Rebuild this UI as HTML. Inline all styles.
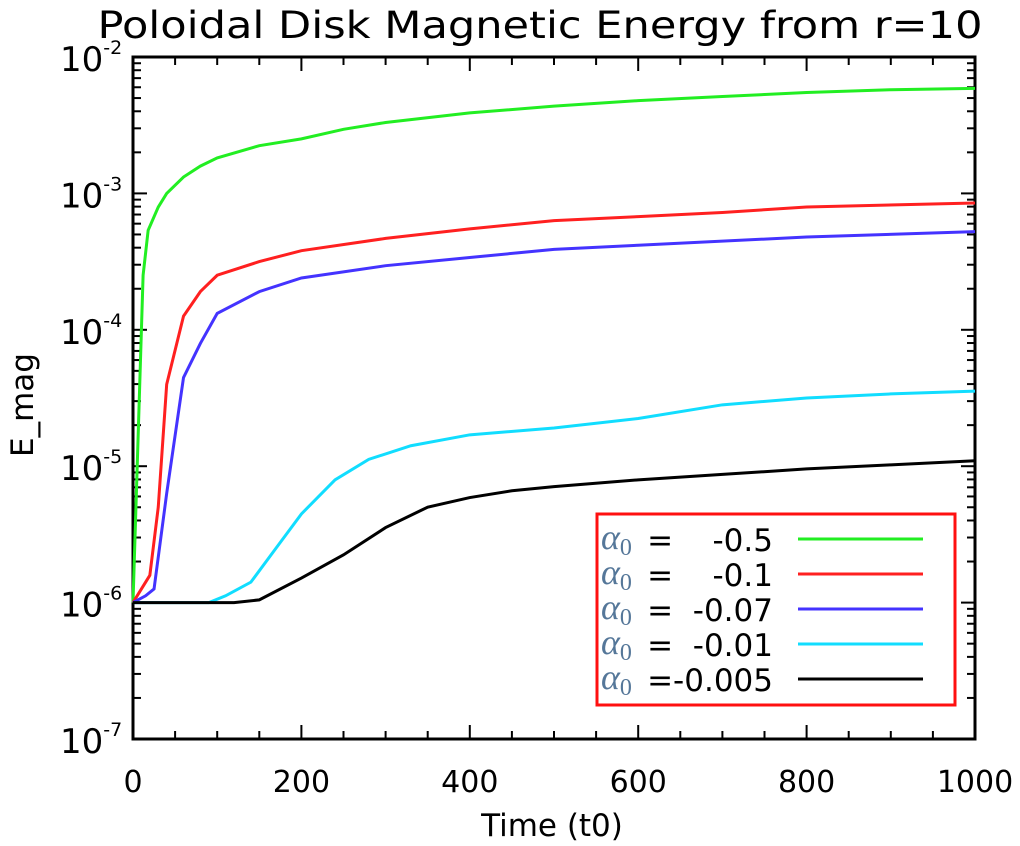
<!DOCTYPE html>
<html><head><meta charset="utf-8"><style>
html,body{margin:0;padding:0;background:#fff;}
svg{display:block;font-family:"DejaVu Sans","Liberation Sans",sans-serif;}
</style></head><body>
<svg id="chart" width="1020" height="846">
<text x="540" y="38" font-size="37" text-anchor="middle" fill="#000" textLength="885" lengthAdjust="spacingAndGlyphs">Poloidal Disk Magnetic Energy from r=10</text>
<text x="552" y="836" font-size="31" text-anchor="middle" fill="#000">Time (t0)</text>
<text transform="translate(33,405) rotate(-90)" font-size="31" text-anchor="middle" fill="#000">E_mag</text>
<g id="axes"></g>
<g id="series"></g>
<g id="legend"></g>
</svg>
<script>
const xTicks=[0,200,400,600,800,1000];
const yExps=[-7,-6,-5,-4,-3,-2];
const tGreen=[0,5,12,18,30,40,60,80,100,150,200,250,300,400,500,600,700,800,900,1000];
const vGreen=[-6,-5,-3.6,-3.27,-3.1,-3.0,-2.88,-2.8,-2.74,-2.65,-2.6,-2.53,-2.48,-2.41,-2.36,-2.32,-2.29,-2.26,-2.24,-2.23];
const tRed=[0,20,30,40,60,80,100,150,200,300,400,500,600,700,800,1000];
const vRed=[-6,-5.8,-5.3,-4.4,-3.9,-3.72,-3.6,-3.5,-3.42,-3.33,-3.26,-3.2,-3.17,-3.14,-3.1,-3.07];
const tBlue=[0,15,25,40,60,80,100,150,200,300,400,500,600,800,1000];
const vBlue=[-6,-5.95,-5.9,-5.2,-4.35,-4.1,-3.88,-3.72,-3.62,-3.53,-3.47,-3.41,-3.38,-3.32,-3.28];
const tCyan=[0,90,110,140,170,200,240,280,330,400,500,600,700,800,900,1000];
const vCyan=[-6,-6,-5.95,-5.85,-5.6,-5.35,-5.1,-4.95,-4.85,-4.77,-4.72,-4.65,-4.55,-4.5,-4.47,-4.45];
const tBlack=[0,120,150,200,250,300,350,400,450,500,600,700,800,900,1000];
const vBlack=[-6,-6.0,-5.98,-5.82,-5.65,-5.45,-5.3,-5.23,-5.18,-5.15,-5.1,-5.06,-5.02,-4.99,-4.96];
const legendLabels=["=    -0.5","=    -0.1","=  -0.07","=  -0.01","=-0.005"];
const colors=["#22ee22","#ff2020","#4433ff","#11ddff","#000000"];

const X0=133,X1=975,Y0=739,Y1=57;
const sx=t=>X0+(t/1000)*(X1-X0);
const sy=e=>Y0-(e+7)/5*(Y0-Y1);
const NS="http://www.w3.org/2000/svg";
function mk(tag,attrs,parent){const el=document.createElementNS(NS,tag);for(const k in attrs)el.setAttribute(k,attrs[k]);parent.appendChild(el);return el;}
const ax=document.getElementById('axes');
const frame=mk('rect',{x:X0,y:Y1,width:X1-X0,height:Y0-Y1,fill:'none',stroke:'#000','stroke-width':3},ax);


for(let t=0;t<=1000;t+=50){
  const len=(t%200===0)?14:8;const x=sx(t);
  mk('line',{x1:x,x2:x,y1:Y0,y2:Y0-len,stroke:'#000','stroke-width':2},ax);
  mk('line',{x1:x,x2:x,y1:Y1,y2:Y1+len,stroke:'#000','stroke-width':2},ax);
}
xTicks.forEach(t=>{const tx=mk('text',{x:sx(t),y:792,'font-size':30,'text-anchor':'middle'},ax);tx.textContent=t;

});
for(let e=-7;e<-2;e++){for(let m=1;m<10;m++){const y=sy(e+Math.log10(m));const len=m===1?14:8;
mk('line',{x1:X0,x2:X0+len,y1:y,y2:y,stroke:'#000','stroke-width':2},ax);
mk('line',{x1:X1,x2:X1-len,y1:y,y2:y,stroke:'#000','stroke-width':2},ax);}}
yExps.forEach(e=>{const tx=mk('text',{x:60,y:sy(e)+14,'font-size':34},ax);tx.innerHTML='10<tspan dy="-17" font-size="19">'+e+'</tspan>';

});
const sr=document.getElementById('series');
const all=[[tGreen,vGreen,'series-alpha-0.5'],[tRed,vRed,'series-alpha-0.1'],[tBlue,vBlue,'series-alpha-0.07'],[tCyan,vCyan,'series-alpha-0.01'],[tBlack,vBlack,'series-alpha-0.005']];
all.forEach((s,i)=>{const pts=s[0].map((t,j)=>sx(t)+','+sy(s[1][j])).join(' ');
const pl=mk('polyline',{points:pts,fill:'none',stroke:colors[i],'stroke-width':3},sr);

});
const lg=document.getElementById('legend');


mk('rect',{x:597,y:514,width:358,height:191,fill:'#fff',stroke:'#ff1010','stroke-width':3},lg);
legendLabels.forEach((l,i)=>{const y=539+i*35;
const a=mk('text',{x:601,y:y+10,'font-size':36,fill:'#557799','font-family':'Liberation Serif,serif','font-style':'italic'},lg);a.innerHTML='α<tspan font-size="24" dy="6" font-style="normal">0</tspan>';


const tx=mk('text',{x:773,y:y+12,'font-size':31,'text-anchor':'end'},lg);tx.textContent=l;tx.style.whiteSpace='pre';


const ln=mk('line',{x1:798,x2:923,y1:y,y2:y,stroke:colors[i],'stroke-width':3},lg);

});
</script>
</body></html>
